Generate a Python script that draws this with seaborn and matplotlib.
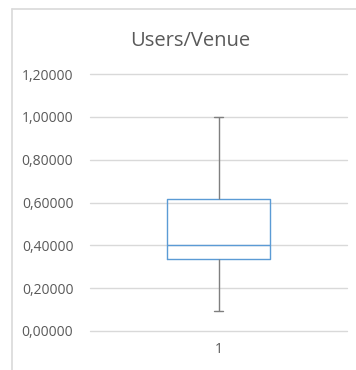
import numpy as np
import pandas as pd
import matplotlib
matplotlib.use("Agg")
import matplotlib.pyplot as plt
from matplotlib.lines import Line2D
from matplotlib.ticker import FuncFormatter
import seaborn as sns

# five-number summary (min, q1, median, q3, max)
users_per_venue = [0.092, 0.336, 0.403, 0.618, 1.0]
series_label = ["1"] * len(users_per_venue)
y_ticks = [0.0, 0.2, 0.4, 0.6, 0.8, 1.0, 1.2]

df = pd.DataFrame({"group": series_label, "users_venue": users_per_venue})

sns.set_style("white")
plt.rcParams["font.family"] = ["Open Sans", "DejaVu Sans"]

W, H = 356, 370
fig = plt.figure(figsize=(W / 100, H / 100), dpi=100)
ax = fig.add_axes([90 / W, (H - 331) / H, (347 - 90) / W, (331 - 74) / H])

blue = "#5B9BD5"
grey = "#7F7F7F"
sns.boxplot(data=df, x="group", y="users_venue", ax=ax, fill=False,
            color=blue, width=0.4, whis=(0, 100), linewidth=1,
            boxprops={"color": blue, "linewidth": 1},
            medianprops={"color": blue, "linewidth": 1},
            whiskerprops={"color": grey, "linewidth": 1},
            capprops={"color": grey, "linewidth": 1},
            capwidths=0.035)

ax.set_ylim(0, 1.2)
ax.set_xlim(-0.5, 0.5)
ax.set_yticks(y_ticks)
ax.yaxis.set_major_formatter(FuncFormatter(lambda v, p: f"{v:.5f}".replace(".", ",")))
ax.grid(axis="y", color="#D9D9D9", linewidth=1)
for gl in ax.get_ygridlines():
    gl.set_clip_on(False)
ax.set_axisbelow(True)
for s in ax.spines.values():
    s.set_visible(False)
ax.tick_params(axis="both", length=0, labelsize=10, labelcolor="#595959", pad=12)
ax.tick_params(axis="x", pad=8)
ax.set_xlabel("")
ax.set_ylabel("")

fig.text(190 / W, (H - 46) / H, "Users/Venue", ha="center", va="baseline",
         fontsize=14.5, color="#595959")

# chart area border (top and left edges visible)
fig.add_artist(Line2D([12 / W, 1], [1 - 8.5 / H, 1 - 8.5 / H], transform=fig.transFigure,
                      color="#D9D9D9", linewidth=1.2))
fig.add_artist(Line2D([12 / W, 12 / W], [0, 1 - 8.5 / H], transform=fig.transFigure,
                      color="#D9D9D9", linewidth=1.2))

fig.savefig("out.png", dpi=100)
